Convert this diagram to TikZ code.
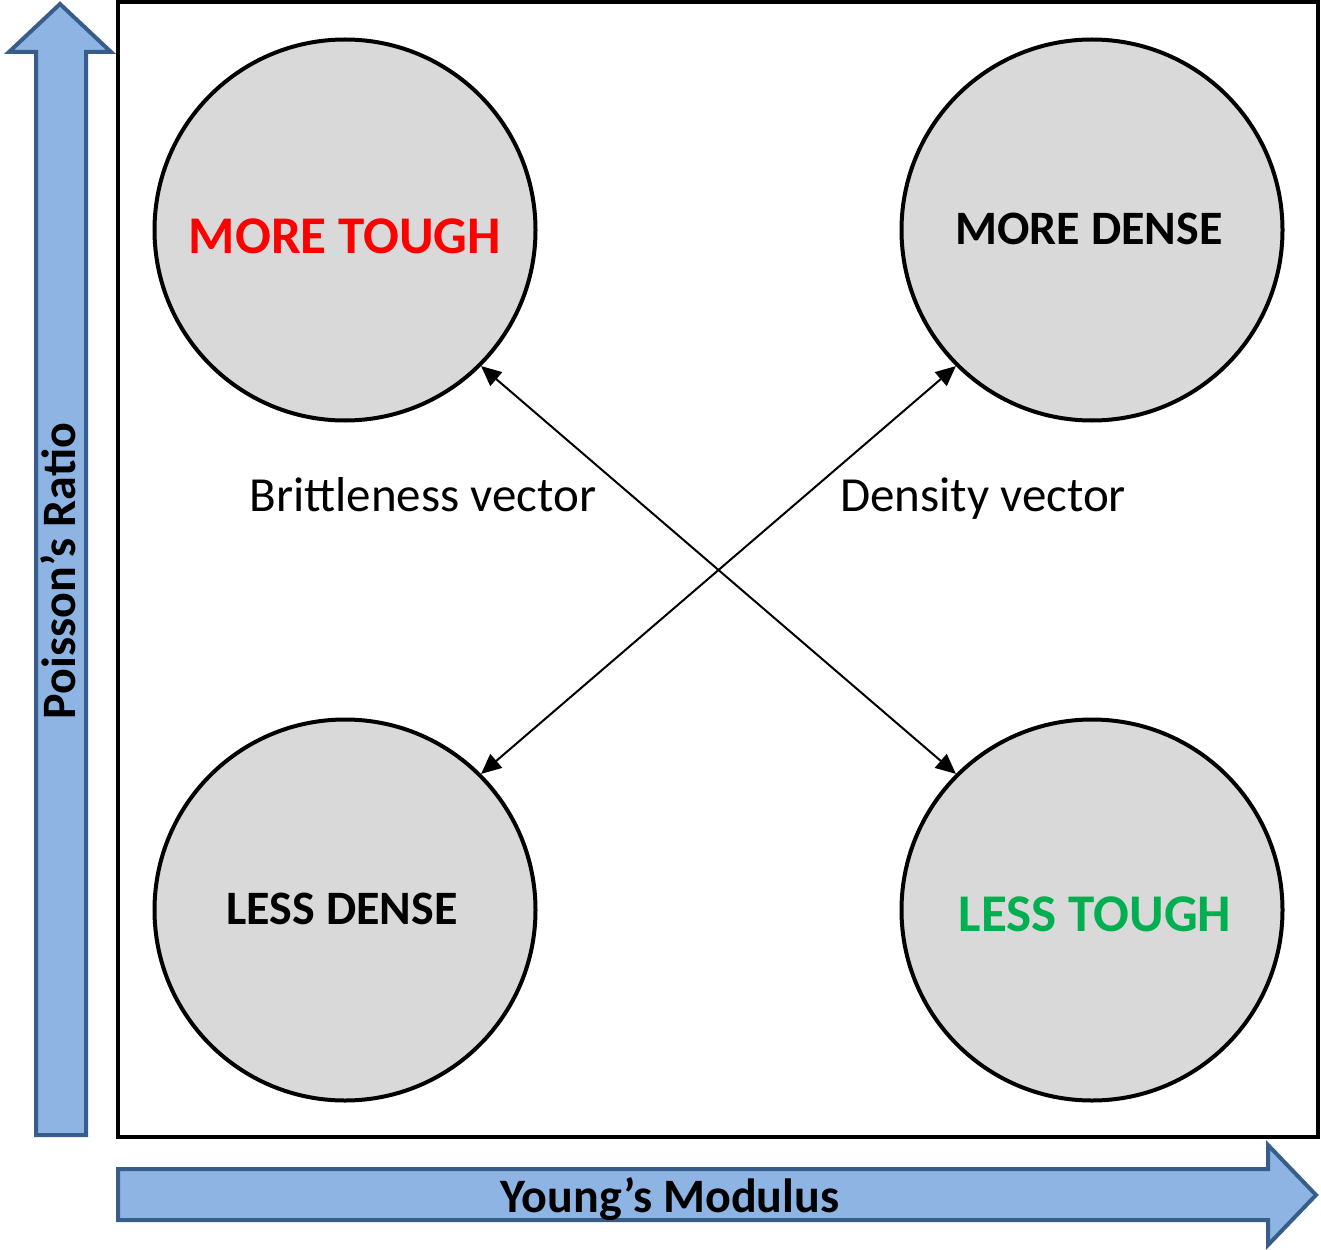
\documentclass[tikz,border=0pt]{standalone}
\usepackage{fontspec}
\setmainfont{Carlito}
\usetikzlibrary{arrows.meta}
\definecolor{circfill}{HTML}{D9D9D9}
\definecolor{axfill}{HTML}{8EB4E3}
\definecolor{axline}{HTML}{385D8A}
\definecolor{toughred}{HTML}{FF0000}
\definecolor{toughgreen}{HTML}{00B050}
\tikzset{
  ball/.style={circle, draw=black, fill=circfill, line width=4pt, minimum size=381pt, inner sep=0pt},
  biglabel/.style={font=\fontsize{48}{52}\selectfont\bfseries, anchor=base, inner sep=0pt},
  toughlabel/.style={font=\fontsize{53}{57}\selectfont\bfseries, anchor=base, inner sep=0pt},
  veclabel/.style={font=\fontsize{49}{53}\selectfont, anchor=base, inner sep=0pt},
  axislabel/.style={font=\fontsize{48}{52}\selectfont\bfseries, anchor=base, inner sep=0pt},
  axisarrow/.style={fill=axfill, draw=axline, line width=4pt, line join=miter},
  vec/.style={line width=2pt, {Triangle[length=20pt,width=18pt]}-{Triangle[length=20pt,width=18pt]}}
}
\begin{document}
\begin{tikzpicture}[x=1pt,y=-1pt]
\useasboundingbox (0,0) rectangle (1321,1249);
% axis arrows
\draw[axisarrow] (36,1135) -- (36,52) -- (9,52) -- (60,4) -- (111,52) -- (86,52) -- (86,1135) -- cycle;
\draw[axisarrow] (118,1169) -- (1268,1169) -- (1268,1145) -- (1316,1195) -- (1268,1245) -- (1268,1220) -- (118,1220) -- cycle;
% frame
\node[draw=black, line width=3.5pt, minimum width=1200pt, minimum height=1135pt, inner sep=0pt] (frame) at (718,569.5) {};
% circles
\node[ball] (mt) at (345,230) {};
\node[ball] (md) at (1092,230) {};
\node[ball] (ld) at (345,910) {};
\node[ball] (lt) at (1092,910) {};
% labels
\node[toughlabel, text=toughred] (mtl) at (345,254) {MORE TOUGH};
\node[biglabel] (mdl) at (1089,244) {MORE DENSE};
\node[biglabel] (ldl) at (342,924) {LESS DENSE};
\node[toughlabel, text=toughgreen] (ltl) at (1095,931) {LESS TOUGH};
% vectors
\draw[vec] (mt.-45) -- (lt.135);
\draw[vec] (md.-135) -- (ld.45);
\node[veclabel] (bv) at (423,511) {Brittleness vector};
\node[veclabel] (dv) at (983,511) {Density vector};
% axis labels
\node[axislabel, rotate=90] (pr) at (75,571) {Poisson’s Ratio};
\node[axislabel] (ym) at (670,1212) {Young’s Modulus};
\end{tikzpicture}
\end{document}
